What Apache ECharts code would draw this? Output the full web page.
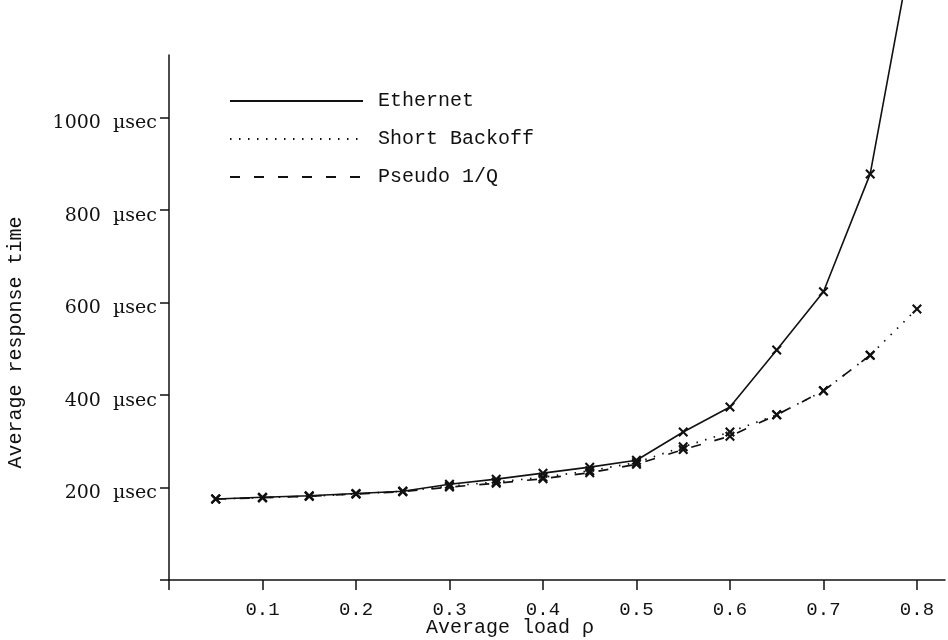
<!DOCTYPE html>
<html lang="en">
<head>
    <meta charset="UTF-8">
    <script src="https://cdn.jsdelivr.net/npm/echarts@6.0.0/dist/echarts.min.js"></script>
    <title>Average response time vs load</title>
    <style>
        body { margin: 0; background: #fff; }
    </style>
</head>
<body>
    <div id="main" style="width: 948px;height:640px;"></div>
    <script type="text/javascript">
        // load values on the x axis
        const loads = [0.05, 0.1, 0.15, 0.2, 0.25, 0.3, 0.35, 0.4, 0.45, 0.5, 0.55, 0.6, 0.65, 0.7, 0.75, 0.8];
        // response times in usec
        const ethernet = [175, 179, 182, 187, 192, 207, 218, 231, 244, 259, 320, 374, 497, 623, 878, 1425];
        const shortBackoff = [175, 178, 181, 186, 192, 203, 212, 222, 236, 254, 288, 320, 357, 409, 486, 586];
        const pseudoQ = [175, 178, 181, 186, 191, 201, 209, 219, 232, 250, 282, 311, 357, 409, 486];
        // tick labels
        const xTicks = [0.1, 0.2, 0.3, 0.4, 0.5, 0.6, 0.7, 0.8];
        const yTicks = [200, 400, 600, 800, 1000];

        // bold "x" marker
        const cross = 'path://M0,1.5L1.5,0L5,3.5L8.5,0L10,1.5L6.5,5L10,8.5L8.5,10L5,6.5L1.5,10L0,8.5L3.5,5Z';
        const mono = 'Liberation Mono';

        const pairs = (ys) => ys.map((v, i) => [loads[i], v]);

        let myChart = echarts.init(document.getElementById('main'));
        let options = {
            backgroundColor: '#fff',
            animation: false,
            grid: { left: 169, right: 3, top: 55, bottom: 60, outerBoundsMode: 'none' },
            legend: {
                orient: 'vertical',
                left: 224,
                top: 86,
                itemWidth: 133,
                itemHeight: 14,
                itemGap: 18,
                itemStyle: { opacity: 0 },
                textStyle: { fontFamily: mono, fontSize: 20, color: '#111', padding: [0, 0, 0, 10] },
                data: ['Ethernet', 'Short Backoff', 'Pseudo 1/Q']
            },
            xAxis: {
                type: 'value',
                min: 0,
                max: 0.83,
                interval: 0.1,
                splitLine: { show: false },
                axisLine: { lineStyle: { color: '#111', width: 1.5 } },
                axisTick: { length: 10, lineStyle: { color: '#111', width: 1.5 }, customValues: [0].concat(xTicks) },
                axisLabel: {
                    customValues: xTicks,
                    margin: 20,
                    fontFamily: mono, fontSize: 19, color: '#111',
                    formatter: (v) => v.toFixed(1)
                },
                name: 'Average load ρ',
                nameLocation: 'middle',
                nameGap: 38,
                nameMoveOverlap: false,
                nameTextStyle: {
                    fontFamily: mono, fontSize: 20, color: '#111',
                    verticalAlign: 'top', lineHeight: 20, padding: [0, 94, 0, 0]
                }
            },
            yAxis: {
                type: 'value',
                min: 0,
                max: 1135,
                interval: 200,
                splitLine: { show: false },
                axisLine: { lineStyle: { color: '#111', width: 1.5 } },
                axisTick: { length: 9, lineStyle: { color: '#111', width: 1.5 }, customValues: [0].concat(yTicks) },
                axisLabel: {
                    customValues: yTicks,
                    margin: 12,
                    verticalAlign: 'top',
                    lineHeight: 12,
                    fontFamily: 'DejaVu Serif', fontSize: 19, color: '#111',
                    formatter: (v) => v + '  µsec'
                },
                name: 'Average response time',
                nameLocation: 'middle',
                nameGap: 143,
                nameMoveOverlap: false,
                nameTextStyle: { fontFamily: mono, fontSize: 20, color: '#111', padding: [0, 50, 0, 0] }
            },
            series: [
                {
                    name: 'Ethernet',
                    type: 'line',
                    data: pairs(ethernet),
                    clip: false,
                    symbol: cross,
                    symbolSize: 10,
                    itemStyle: { color: '#111' },
                    lineStyle: { color: '#111', width: 1.6, type: 'solid' }
                },
                {
                    name: 'Short Backoff',
                    type: 'line',
                    data: pairs(shortBackoff),
                    symbol: cross,
                    symbolSize: 10,
                    itemStyle: { color: '#111' },
                    lineStyle: { color: '#111', width: 1.7, type: [1.5, 7.5] }
                },
                {
                    name: 'Pseudo 1/Q',
                    type: 'line',
                    data: pairs(pseudoQ),
                    symbol: cross,
                    symbolSize: 10,
                    itemStyle: { color: '#111' },
                    lineStyle: { color: '#111', width: 1.7, type: [10, 14] }
                }
            ]
        };
        myChart.setOption(options);
    </script>
</body>
</html>
